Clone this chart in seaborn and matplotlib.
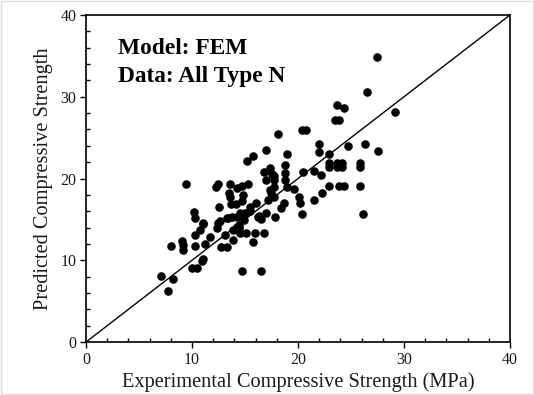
import matplotlib
matplotlib.use("Agg")
import matplotlib.pyplot as plt
import seaborn as sns
import pandas as pd
import numpy as np
from matplotlib.ticker import MultipleLocator

# Experimental vs. predicted compressive strength (MPa), Type N specimens
experimental = [
    7.09, 7.73, 8.18, 8.05, 9.08, 9.15, 9.15, 9.47, 10.18, 10.30,
    10.24, 10.30, 10.04, 10.43, 10.76, 11.00, 10.95, 11.08, 11.20, 11.08,
    11.72, 12.37, 12.24, 12.50, 12.56, 12.69, 12.75, 13.33, 13.27, 13.14,
    13.59, 13.53, 13.59, 13.66, 13.78, 13.91, 13.91, 14.17, 14.24, 14.24,
    14.43, 14.69, 14.75, 14.81, 14.56, 14.94, 15.07, 14.56, 14.75, 15.20,
    15.72, 15.25, 15.43, 15.43, 15.78, 16.04, 16.23, 16.55, 15.97, 16.49,
    16.75, 16.81, 16.94, 17.00, 17.00, 17.20, 17.39, 17.33, 17.46, 17.58,
    17.71, 17.78, 17.84, 18.16, 18.42, 18.68, 18.74, 18.74, 18.74, 18.94,
    19.00, 19.58, 20.10, 20.16, 20.42, 20.74, 20.49, 20.42, 21.51, 21.51,
    21.96, 21.96, 22.16, 22.22, 22.93, 22.93, 22.93, 22.93, 23.45, 23.84,
    23.64, 23.71, 23.71, 23.90, 24.20, 24.20, 24.38, 24.35, 24.73, 25.89,
    25.89, 25.89, 26.09, 26.28, 26.47, 27.44, 27.57, 29.11, 14.24, 15.00,
    12.50, 17.71, 17.78, 14.40, 13.40, 16.30,
]
predicted = [
    8.14, 6.26, 7.69, 11.70, 12.39, 11.82, 11.25, 19.35, 15.91, 15.13,
    13.09, 11.74, 9.08, 9.12, 13.70, 14.60, 9.90, 10.10, 11.94, 14.44,
    12.80, 13.95, 19.02, 19.35, 16.48, 14.81, 11.62, 11.62, 15.13, 13.13,
    19.35, 18.28, 17.79, 16.89, 15.34, 13.70, 12.47, 16.89, 18.81, 15.34,
    13.91, 19.10, 17.30, 18.00, 15.75, 14.93, 13.29, 13.29, 8.71, 22.13,
    22.70, 19.35, 16.56, 16.07, 12.19, 16.97, 15.34, 15.01, 13.29, 8.71,
    13.29, 20.82, 23.44, 15.75, 19.84, 17.38, 21.23, 18.61, 18.20, 20.61,
    19.02, 17.79, 15.34, 25.40, 16.36, 16.97, 19.84, 21.68, 20.65, 18.94,
    23.03, 18.77, 17.71, 16.97, 25.93, 25.93, 20.78, 15.66, 20.98, 17.38,
    24.25, 23.19, 20.41, 18.28, 23.03, 21.88, 21.47, 19.10, 27.20, 27.20,
    29.00, 21.96, 21.47, 19.10, 21.96, 21.47, 28.59, 19.10, 24.00, 21.96,
    21.47, 19.10, 15.66, 24.25, 30.55, 34.89, 23.31, 28.10, 14.11, 15.75,
    14.60, 19.84, 20.32, 14.30, 15.20, 15.40,
]

df = pd.DataFrame({"experimental": experimental, "predicted": predicted})

sns.set_theme(style="white")
plt.rcParams["font.family"] = ["Liberation Serif", "DejaVu Serif"]

fig = plt.figure(figsize=(5.34, 3.95), dpi=100)
ax = fig.add_axes([0.161, 0.134, 0.794, 0.828])

sns.scatterplot(data=df, x="experimental", y="predicted", ax=ax,
                color="black", s=38, edgecolor="black", linewidth=0,
                zorder=3)

# 1:1 reference line
ax.plot([0, 40], [0, 40], color="black", linewidth=1.0, zorder=2)

ax.set_xlim(0, 40)
ax.set_ylim(0, 40)
ax.xaxis.set_major_locator(MultipleLocator(10))
ax.yaxis.set_major_locator(MultipleLocator(10))
ax.xaxis.set_minor_locator(MultipleLocator(2))
ax.yaxis.set_minor_locator(MultipleLocator(2))
ax.tick_params(which="major", direction="out", length=4, width=1,
               color="black", labelsize=11.5, pad=3, bottom=True, left=True,
               labelcolor="#1a1a1a")
ax.tick_params(which="minor", direction="in", length=3, width=1,
               color="black", bottom=True, left=True)

for side in ["left", "right", "top", "bottom"]:
    ax.spines[side].set_color("black")
    ax.spines[side].set_linewidth(1.2)

ax.set_xlabel("Experimental Compressive Strength (MPa)", fontsize=14.7,
              color="#1a1a1a", labelpad=3)
ax.set_ylabel("Predicted Compressive Strength", fontsize=14.7,
              color="#1a1a1a", labelpad=5)

ax.text(3.0, 35.9, "Model: FEM", fontsize=16.8, fontweight="bold",
        va="center", ha="left", color="black")
ax.text(3.0, 32.5, "Data: All Type N", fontsize=16.8, fontweight="bold",
        va="center", ha="left", color="black")

# thin light frame around the whole figure
fig.patches.append(plt.Rectangle((0.002, 0.003), 0.996, 0.994,
                                 transform=fig.transFigure, fill=False,
                                 edgecolor="#dddddd", linewidth=1.0))

fig.savefig("out.png", dpi=100, facecolor="white")
